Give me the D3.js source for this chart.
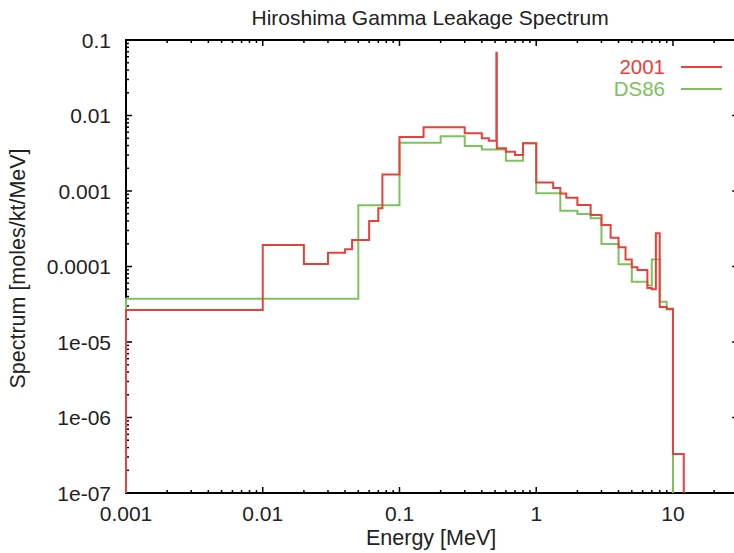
<!DOCTYPE html>
<html>
<head>
<meta charset="utf-8">
<script src="https://cdn.jsdelivr.net/npm/d3@7"></script>
<style>
  html, body { margin: 0; padding: 0; background: #fff; }
  svg { display: block; }
  text { font-family: "Liberation Sans", Arial, Helvetica, sans-serif; fill: #222; }
</style>
</head>
<body>
<svg id="chart" width="734" height="553"></svg>
<script>
// ---- data ----
const chartTitle = "Hiroshima Gamma Leakage Spectrum";
const xLabel = "Energy [MeV]";
const yLabel = "Spectrum [moles/kt/MeV]";

const xTickValues = [0.001, 0.01, 0.1, 1, 10];
const xTickLabels = ["0.001", "0.01", "0.1", "1", "10"];
const yTickValues = [1e-7, 1e-6, 1e-5, 1e-4, 1e-3, 1e-2, 0.1];
const yTickLabels = ["1e-07", "1e-06", "1e-05", "0.0001", "0.001", "0.01", "0.1"];

// bin edges (MeV) and per-bin values (moles/kt/MeV)
const edges2001 = [0.001, 0.01, 0.02, 0.03, 0.04, 0.045, 0.06, 0.07, 0.075, 0.1,
  0.15, 0.3, 0.4, 0.45, 0.511, 0.515, 0.6, 0.7, 0.8, 1.0,
  1.33, 1.5, 1.66, 2.0, 2.5, 3.0, 3.5, 4.0, 4.5, 5.0,
  5.5, 6.5, 7.0, 7.5, 8.0, 9.0, 10, 12];
const values2001 = [2.65e-5, 1.93e-4, 1.08e-4, 1.52e-4, 1.69e-4, 2.24e-4, 4.0e-4, 5.9e-4, 1.66e-3,
  5.2e-3, 7.0e-3, 5.8e-3, 5.0e-3, 4.63e-3, 0.068, 3.68e-3, 3.31e-3, 3.0e-3, 4.3e-3,
  1.3e-3, 1.1e-3, 9.3e-4, 8.15e-4, 6.53e-4, 4.8e-4, 3.55e-4, 2.41e-4, 1.8e-4, 1.24e-4,
  9.75e-5, 9.0e-5, 5.2e-5, 5.0e-5, 2.75e-4, 2.9e-5, 2.75e-5, 3.29e-7];

const edgesDS86 = [0.001, 0.05, 0.1, 0.2, 0.3, 0.4, 0.6, 0.8, 1.0, 1.5,
  2.0, 2.5, 3.0, 4.0, 5.0, 6.5, 7.0, 8.0, 9.0, 10];
const valuesDS86 = [3.75e-5, 6.47e-4, 4.37e-3, 5.3e-3, 3.95e-3, 3.55e-3, 2.52e-3, 4.28e-3,
  9.33e-4, 5.48e-4, 4.95e-4, 4.35e-4, 1.99e-4, 1.07e-4, 6.3e-5, 5.6e-5, 1.24e-4, 3.4e-5, 2.7e-5];

const seriesNames = ["2001", "DS86"];
const seriesColors = ["#e8413c", "#7dc25b"];

// ---- layout ----
const L = 126, R = 738.2, T = 40, B = 493;
const svg = d3.select("#chart");

const x = d3.scaleLog().domain([0.001, 30]).range([L, R]);
const y = d3.scaleLog().domain([1e-7, 0.1]).range([B, T]);

svg.append("defs").append("clipPath").attr("id", "clip")
  .append("rect").attr("x", L - 2).attr("y", T).attr("width", R - L + 4).attr("height", B - T);

// title
svg.append("text").attr("x", (L + R) / 2 - 2).attr("y", 25)
  .attr("text-anchor", "middle").attr("font-size", 21).text(chartTitle);

// axes (ticks inward, mirrored)
function minorTicks(domain) {
  const out = [];
  const lo = Math.round(Math.log10(domain[0])), hi = Math.ceil(Math.log10(domain[1]));
  for (let p = lo; p < hi; p++) for (let m = 1; m <= 9; m++) {
    const v = m * Math.pow(10, p);
    if (v >= domain[0] * 0.999 && v <= domain[1] * 1.001) out.push({ v, major: m === 1 });
  }
  if (Math.abs(Math.log10(domain[1]) - Math.round(Math.log10(domain[1]))) < 1e-9) out.push({ v: domain[1], major: true });
  return out;
}
const axisG = svg.append("g").attr("stroke", "#000");
const xt = minorTicks(x.domain());
xt.forEach(t => {
  const len = t.major ? 6 : 3, px = x(t.v);
  axisG.append("line").attr("x1", px).attr("x2", px).attr("y1", B).attr("y2", B - len).attr("stroke-width", 1.5);
  axisG.append("line").attr("x1", px).attr("x2", px).attr("y1", T).attr("y2", T + len).attr("stroke-width", 1.5);
});
const yt = minorTicks(y.domain());
yt.forEach(t => {
  const len = t.major ? 6 : 3, py = y(t.v);
  axisG.append("line").attr("x1", L).attr("x2", L + len).attr("y1", py).attr("y2", py).attr("stroke-width", 1.5);
  axisG.append("line").attr("x1", R).attr("x2", R - len).attr("y1", py).attr("y2", py).attr("stroke-width", 1.5);
});
axisG.append("rect").attr("x", L).attr("y", T).attr("width", R - L).attr("height", B - T)
  .attr("fill", "none").attr("stroke-width", 2);

// tick labels
xTickValues.forEach((v, i) => {
  svg.append("text").attr("x", x(v)).attr("y", 521).attr("text-anchor", "middle")
    .attr("font-size", 21).text(xTickLabels[i]);
});
yTickValues.forEach((v, i) => {
  svg.append("text").attr("x", 111).attr("y", y(v)).attr("dy", "0.36em").attr("text-anchor", "end")
    .attr("font-size", 21).text(yTickLabels[i]);
});

// axis titles
svg.append("text").attr("x", (L + R) / 2 - 1).attr("y", 545).attr("text-anchor", "middle")
  .attr("font-size", 21.5).text(xLabel);
svg.append("text").attr("transform", `translate(25,${(T + B) / 2 + 2}) rotate(-90)`)
  .attr("text-anchor", "middle").attr("font-size", 21.5).text(yLabel);

// step histograms
const FLOOR = 1e-9;
function stepPoints(edges, vals) {
  const pts = [[edges[0], FLOOR]];
  vals.forEach((v, i) => pts.push([edges[i], v]));
  pts.push([edges[edges.length - 1], vals[vals.length - 1]]);
  pts.push([edges[edges.length - 1], FLOOR]);
  return pts;
}
const line = d3.line().curve(d3.curveStepAfter)
  .x(d => x(d[0])).y(d => Math.min(B + 5, y(d[1])));
const plotG = svg.append("g").attr("clip-path", "url(#clip)");
plotG.append("path").datum(stepPoints(edgesDS86, valuesDS86))
  .attr("d", line).attr("fill", "none").attr("stroke", seriesColors[1]).attr("stroke-width", 2);
plotG.append("path").datum(stepPoints(edges2001, values2001))
  .attr("d", line).attr("fill", "none").attr("stroke", seriesColors[0]).attr("stroke-width", 2);

// legend
const legY = [67, 89];
seriesNames.forEach((n, i) => {
  svg.append("text").attr("x", 665).attr("y", legY[i]).attr("dy", "0.36em").attr("text-anchor", "end")
    .attr("font-size", 20.5).style("fill", seriesColors[i]).text(n);
  svg.append("line").attr("x1", 681).attr("x2", 722).attr("y1", legY[i]).attr("y2", legY[i])
    .attr("stroke", seriesColors[i]).attr("stroke-width", 2);
});
</script>
</body>
</html>
